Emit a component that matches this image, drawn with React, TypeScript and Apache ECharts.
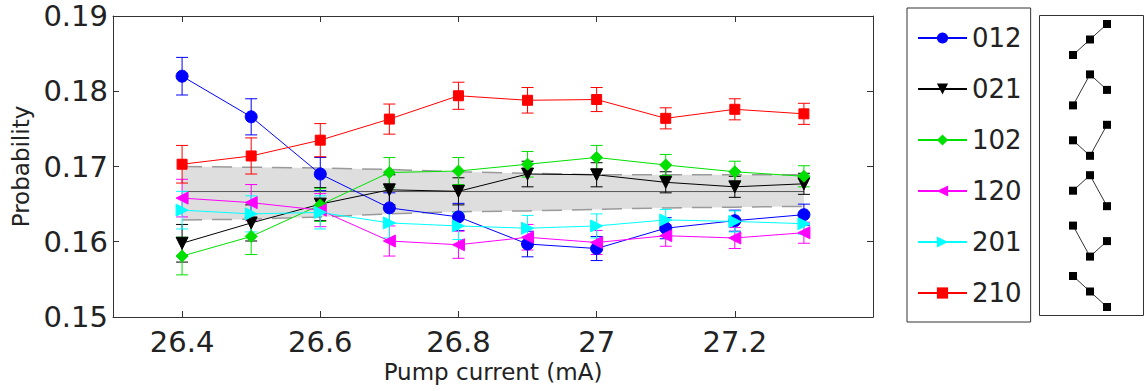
import React, { useEffect, useRef } from "react";
import * as echarts from "echarts";

// ---- data ----
const pumpCurrent = [26.4, 26.5, 26.6, 26.7, 26.8, 26.9, 27.0, 27.1, 27.2, 27.3];
const patternNames = ["012", "021", "102", "120", "201", "210"];
const p012 = [0.1820, 0.1766, 0.1690, 0.1645, 0.1633, 0.1597, 0.1591, 0.1618, 0.1628, 0.1636];
const p021 = [0.1598, 0.1625, 0.1650, 0.1669, 0.1667, 0.1690, 0.1689, 0.1679, 0.1673, 0.1677];
const p102 = [0.1581, 0.1607, 0.1649, 0.1692, 0.1694, 0.1703, 0.1712, 0.1702, 0.1693, 0.1687];
const p120 = [0.1658, 0.1652, 0.1642, 0.1601, 0.1596, 0.1606, 0.1599, 0.1608, 0.1605, 0.1612];
const p201 = [0.1642, 0.1637, 0.1639, 0.1625, 0.1621, 0.1618, 0.1621, 0.1629, 0.1627, 0.1624];
const p210 = [0.1703, 0.1714, 0.1735, 0.1763, 0.1794, 0.1788, 0.1789, 0.1764, 0.1776, 0.1770];
const errHalf = [0.0025, 0.0024, 0.0022, 0.0020, 0.0018, 0.0017, 0.0016, 0.0014, 0.0014, 0.0014];
const bandUpper = [0.1700, 0.1699, 0.1698, 0.1696, 0.1693, 0.1691, 0.1689, 0.1689, 0.1689, 0.1689];
const bandLower = [0.1629, 0.1630, 0.1633, 0.1637, 0.1640, 0.1641, 0.1643, 0.1645, 0.1646, 0.1647];
const meanLevel = 0.16667;
const xTickValues = [26.4, 26.6, 26.8, 27, 27.2];
const yTicks = { min: 0.15, max: 0.19, step: 0.01 };
const xRange = { min: 26.3, max: 27.4 };

const seriesValues = [p012, p021, p102, p120, p201, p210];
const seriesColors = ["#0000ff", "#000000", "#00e000", "#ff00ff", "#00ffff", "#ff0000"];
const seriesSymbols = ["circle", "triangle", "diamond", "triangle", "triangle", "rect"];
const seriesRotate = [0, 180, 0, 90, -90, 0];
const seriesSymbolSize = [12, 12, 12, 12, 12, 10];

const FONT = "DejaVu Sans";

export default function App() {
  const ref = useRef<HTMLDivElement>(null);
  useEffect(() => {
    document.body.style.margin = "0";
    if (!ref.current) return;
    const chart = echarts.init(ref.current, null, { renderer: "svg" });

    const band = [
      {
        name: "bandFill",
        type: "custom",
        data: pumpCurrent.map((x, i) => [x, bandLower[i], bandUpper[i]]),
        encode: { x: 0, y: [1, 2] },
        silent: true,
        z: 1,
        renderItem: (params: any, api: any) => {
          if (params.dataIndex !== 0) return null;
          const up = pumpCurrent.map((x, i) => api.coord([x, bandUpper[i]]));
          const lo = pumpCurrent.map((x, i) => api.coord([x, bandLower[i]])).reverse();
          return {
            type: "polygon",
            shape: { points: up.concat(lo) },
            style: { fill: "#dedede", stroke: null },
          };
        },
      },
      {
        name: "bandUpper",
        type: "line",
        data: pumpCurrent.map((x, i) => [x, bandUpper[i]]),
        symbol: "none",
        lineStyle: { color: "#9a9a9a", width: 1.5, type: [20, 10] },
        silent: true,
        z: 1,
      },
      {
        name: "bandLower",
        type: "line",
        data: pumpCurrent.map((x, i) => [x, bandLower[i]]),
        symbol: "none",
        lineStyle: { color: "#9a9a9a", width: 1.5, type: [20, 10] },
        silent: true,
        z: 1,
      },
      {
        name: "mean",
        type: "line",
        data: [
          [pumpCurrent[0], meanLevel],
          [pumpCurrent[pumpCurrent.length - 1], meanLevel],
        ],
        symbol: "none",
        lineStyle: { color: "#555555", width: 1 },
        silent: true,
        z: 1,
      },
    ];

    const dataSeries: any[] = [];
    patternNames.forEach((name, s) => {
      const color = seriesColors[s];
      const vals = seriesValues[s];
      dataSeries.push({
        name: name + " err",
        type: "custom",
        data: pumpCurrent.map((x, i) => [x, vals[i], errHalf[i]]),
        encode: { x: 0, y: 1 },
        silent: true,
        z: 2,
        renderItem: (params: any, api: any) => {
          const x = api.value(0);
          const y = api.value(1);
          const e = api.value(2);
          const t = api.coord([x, y + e]);
          const b = api.coord([x, y - e]);
          const w = 6;
          const st = { stroke: color, lineWidth: 1 };
          return {
            type: "group",
            children: [
              { type: "line", shape: { x1: t[0], y1: t[1], x2: b[0], y2: b[1] }, style: st },
              { type: "line", shape: { x1: t[0] - w, y1: t[1], x2: t[0] + w, y2: t[1] }, style: st },
              { type: "line", shape: { x1: b[0] - w, y1: b[1], x2: b[0] + w, y2: b[1] }, style: st },
            ],
          };
        },
      });
      dataSeries.push({
        name,
        type: "line",
        data: pumpCurrent.map((x, i) => [x, vals[i]]),
        symbol: seriesSymbols[s],
        symbolSize: seriesSymbolSize[s],
        symbolRotate: seriesRotate[s],
        showAllSymbol: true,
        lineStyle: { color, width: 1 },
        itemStyle: { color, borderColor: color },
        z: 3,
      });
    });

    // pattern icons (second legend box), derived from the pattern names
    const iconChildren: any[] = [
      {
        type: "rect",
        shape: { x: 1039.5, y: 15.5, width: 104, height: 300 },
        style: { fill: "#fff", stroke: "#333", lineWidth: 1 },
      },
    ];
    const iconXs = [1073, 1090, 1107];
    patternNames.forEach((name, i) => {
      const cy = 39.5 + 50.4 * i;
      const pts = name.split("").map((d, k) => [iconXs[k], cy + 15.5 - Number(d) * 15.5]);
      iconChildren.push({
        type: "polyline",
        shape: { points: pts },
        style: { stroke: "#333", lineWidth: 1, fill: "none" },
      });
      pts.forEach((p) => {
        iconChildren.push({
          type: "rect",
          shape: { x: p[0] - 4, y: p[1] - 4, width: 8, height: 8 },
          style: { fill: "#000" },
        });
      });
    });

    const tickCommon = { show: true, inside: true, length: 6, lineStyle: { color: "#333" } };

    chart.setOption({
      animation: false,
      backgroundColor: "#ffffff",
      grid: { left: 113, right: 275, top: 16, bottom: 74, containLabel: false },
      legend: {
        orient: "vertical",
        left: 907,
        top: 8,
        data: patternNames,
        itemWidth: 49,
        itemHeight: 14,
        itemGap: 21,
        padding: [15, 9, 14, 10],
        borderColor: "#333",
        borderWidth: 1,
        selectedMode: false,
        textStyle: { fontFamily: FONT, fontSize: 26, color: "#222", lineHeight: 30 },
      },
      xAxis: [
        {
          type: "value",
          min: xRange.min,
          max: xRange.max,
          position: "bottom",
          name: "Pump current (mA)",
          nameLocation: "middle",
          nameGap: 41,
          nameTextStyle: { fontFamily: FONT, fontSize: 23, color: "#222" },
          axisLine: { show: true, lineStyle: { color: "#333", width: 1 } },
          axisTick: { ...tickCommon, customValues: xTickValues },
          axisLabel: {
            customValues: xTickValues,
            fontFamily: FONT,
            fontSize: 29,
            color: "#222",
            margin: 10,
            formatter: (v: number) => String(Number(v.toFixed(1))),
          },
          splitLine: { show: false },
        },
        {
          type: "value",
          min: xRange.min,
          max: xRange.max,
          position: "top",
          axisLine: { show: true, lineStyle: { color: "#333", width: 1 } },
          axisTick: { ...tickCommon, customValues: xTickValues },
          axisLabel: { show: false },
          splitLine: { show: false },
        },
      ],
      yAxis: [
        {
          type: "value",
          min: yTicks.min,
          max: yTicks.max,
          interval: yTicks.step,
          position: "left",
          name: "Probability",
          nameLocation: "middle",
          nameGap: 79,
          nameRotate: 90,
          nameTextStyle: { fontFamily: FONT, fontSize: 23, color: "#222" },
          axisLine: { show: true, lineStyle: { color: "#333", width: 1 } },
          axisTick: tickCommon,
          axisLabel: {
            fontFamily: FONT,
            fontSize: 29,
            color: "#222",
            margin: 5,
            formatter: (v: number) => v.toFixed(2),
          },
          splitLine: { show: false },
        },
        {
          type: "value",
          min: yTicks.min,
          max: yTicks.max,
          interval: yTicks.step,
          position: "right",
          axisLine: { show: true, lineStyle: { color: "#333", width: 1 } },
          axisTick: tickCommon,
          axisLabel: { show: false },
          splitLine: { show: false },
        },
      ],
      graphic: [{ type: "group", children: iconChildren }],
      series: [...band, ...dataSeries],
    });

    return () => chart.dispose();
  }, []);

  return (
    <div
      ref={ref}
      style={{ position: "absolute", left: 0, top: 0, width: 1148, height: 391 }}
    />
  );
}
